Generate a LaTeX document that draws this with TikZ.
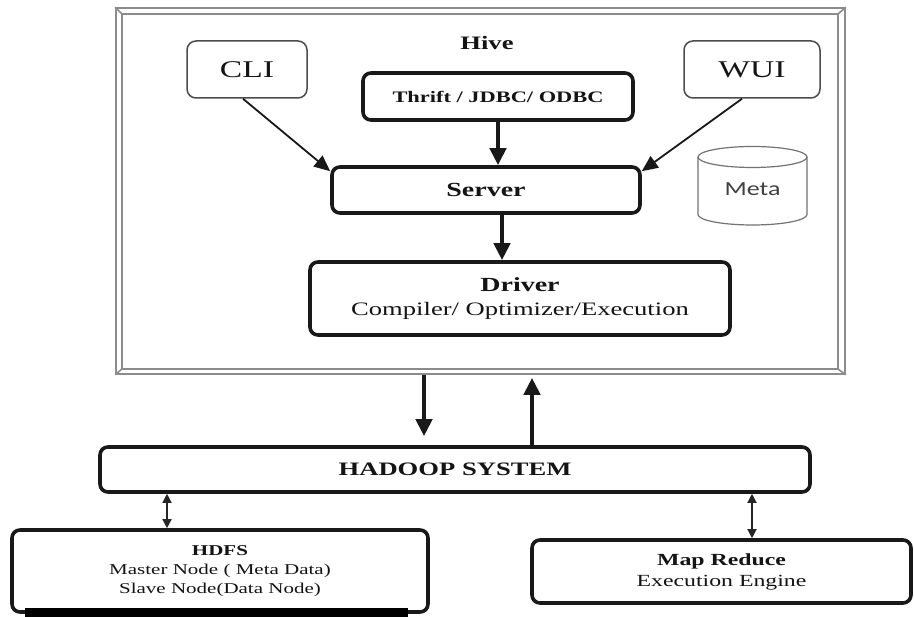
\documentclass[tikz,border=0pt]{standalone}
\usepackage{fontspec}
\setmainfont{Liberation Serif}[FakeStretch=1.4]
\newfontfamily\metafont{Carlito}[FakeStretch=1.3]
\usetikzlibrary{arrows.meta,calc}
\newcommand{\fsz}[2]{\fontsize{#1}{#2}\selectfont}
\begin{document}
\begin{tikzpicture}[x=1pt,y=-1pt,
 thickbox/.style={draw=black!90, line width=3.6pt, rounded corners=8pt, fill=white, inner sep=0pt, text=black!92},
 thinbox/.style={draw=black!70, line width=1.5pt, rounded corners=9pt, inner sep=0pt, text=black!92},
 thinarrow/.style={draw=black!90, line width=1.8pt, -{Triangle[length=16pt,width=14pt]}},
 bigarrow/.style={draw=black!90, line width=4.2pt, -{Triangle[length=17pt,width=16pt]}},
 dblarrow/.style={draw=black!85, line width=1.4pt, {Triangle[length=9pt,width=9pt]}-{Triangle[length=9pt,width=9pt]}},
 frameline/.style={draw=black!45, line width=1.6pt},
 metaline/.style={draw=black!55, line width=1.2pt},
 txt/.style={text=black!92, inner sep=0pt}
]
\useasboundingbox (0,0) rectangle (914,617);
\fill[white] (0,0) rectangle (914,617);

% Hive frame (double bevelled border)
\node[frameline, minimum width=729pt, minimum height=366pt, inner sep=0pt] (hive) at (480.5,191) {};
\draw[frameline] ([shift={(7,7)}]hive.north west) rectangle ([shift={(-8,-6)}]hive.south east);
\draw[frameline] (hive.north west) -- ++(7,7);
\draw[frameline] (hive.north east) -- ++(-8,7);
\draw[frameline] (hive.south west) -- ++(7,-6);
\draw[frameline] (hive.south east) -- ++(-8,-6);

\node[txt, font=\fsz{19}{22}\bfseries] (hivelbl) at (487,43) {Hive};
\node[thinbox, minimum width=120pt, minimum height=57pt, font=\fsz{24}{26}] (cli) at (247,69.5) {CLI};
\node[thinbox, minimum width=136pt, minimum height=57pt, font=\fsz{24}{26}] (wui) at (752,69.5) {WUI};
\node[thickbox, minimum width=270pt, minimum height=47pt, font=\fsz{16}{18}\bfseries] (thr) at (498,96.5) {Thrift / JDBC/ ODBC};
\node[thickbox, minimum width=308pt, minimum height=46pt, font=\fsz{20}{22}\bfseries] (srv) at (486,190) {Server};
\node[thickbox, minimum width=420pt, minimum height=73pt, align=center, font=\fsz{19}{24}] (drv) at (520,298.5) {{\bfseries\fontsize{20}{24}\selectfont Driver}\\Compiler/ Optimizer/Execution};

% Meta cylinder
\draw[metaline] (698,157) -- (698,214.5) arc[start angle=180, end angle=360, x radius=54.5pt, y radius=10.5pt] -- (807,157);
\draw[metaline] (752.5,157) ellipse [x radius=54.5pt, y radius=10.5pt];
\node[txt, font=\metafont\fsz{20}{22}, text=black!75] (meta) at (752.5,189) {Meta};

% Hadoop part
\node[thickbox, minimum width=710pt, minimum height=45pt, font=\fsz{19}{22}\bfseries] (hd) at (455,469.5) {HADOOP SYSTEM};
\node[thickbox, minimum width=416pt, minimum height=82pt, align=center, font=\fsz{15}{19}] (hdfs) at (220,571) {\textbf{HDFS}\\Master Node ( Meta Data)\\Slave Node(Data Node)};
\node[thickbox, minimum width=379pt, minimum height=63pt, align=center, font=\fsz{17}{21}] (mr) at (721.5,571.5) {\textbf{Map Reduce}\\Execution Engine};
\fill[black] (25,608) rectangle (408,617);

% connectors
\coordinate (xa) at (424,0);
\coordinate (xb) at (532,0);
\coordinate (xc) at (167,0);
\coordinate (xd) at (752,0);
\coordinate (xe) at (502,0);
\coordinate (ya) at ($(hd.north)+(0,-9)$);
\coordinate (yb) at ($(hive.south)+(0,3)$);

\draw[thinarrow] ([xshift=-4pt]cli.south) -- ($(srv.north west)+(0,6)$);
\draw[thinarrow] ([xshift=-10pt]wui.south) -- ($(srv.north east)+(0,6)$);
\draw[bigarrow] (thr.south) -- (thr.south |- srv.north);
\draw[bigarrow] (srv.south -| xe) -- (drv.north -| xe);
\draw[bigarrow] (hive.south -| xa) -- (ya -| xa);
\draw[bigarrow] (hd.north -| xb) -- (yb -| xb);
\draw[dblarrow] (hd.south -| xc) -- (hdfs.north -| xc);
\draw[dblarrow] (hd.south -| xd) -- (mr.north -| xd);
\end{tikzpicture}
\end{document}
